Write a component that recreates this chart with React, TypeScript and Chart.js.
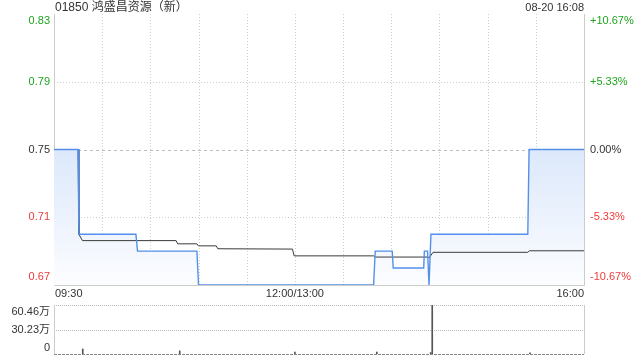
import React, { useEffect, useRef } from "react";
import { Chart, registerables } from "chart.js";

Chart.register(...registerables);

const TITLE = "01850 鸿盛昌资源（新）";
const TIMESTAMP = "08-20 16:08";
const WATERMARK = "sina.com";
const PREV_CLOSE = 0.75;

// minutes since 09:30 on a continuous trading clock (lunch break removed)
const priceTimes = [0, 15, 15.5, 51, 52, 89, 90, 199, 200, 210.6, 211.2, 230.2, 230.6, 232.6, 233.5, 234.7, 295, 295.8, 330];
const priceValues = [0.75, 0.75, 0.7, 0.7, 0.69, 0.69, 0.67, 0.67, 0.69, 0.69, 0.68, 0.68, 0.69, 0.69, 0.67, 0.7, 0.7, 0.75, 0.75];

const avgTimes = [0, 15, 15.5, 17.7, 76, 77, 89, 90, 101, 102, 148.5, 149.5, 199, 200, 233, 233.6, 236, 295, 296, 330];
const avgValues = [0.75, 0.75, 0.7, 0.6962, 0.6962, 0.6943, 0.6943, 0.6931, 0.6931, 0.6914, 0.6912, 0.6872, 0.6872, 0.6865, 0.6865, 0.686, 0.6893, 0.6893, 0.6902, 0.6902];

const volTimes = [17.9, 78.3, 150, 201, 234.5, 235.5, 296.4];
const volValues = [62000, 38000, 24000, 24000, 18000, 604600, 14000];

const priceTicks = [0.67, 0.71, 0.75, 0.79, 0.83];
const priceTickLabels = ["0.67", "0.71", "0.75", "0.79", "0.83"];
const pctTickLabels = ["-10.67%", "-5.33%", "0.00%", "+5.33%", "+10.67%"];

const timeTickMinutes = [0, 150, 330];
const timeTickLabels = ["09:30", "12:00/13:00", "16:00"];

const volTicks = [0, 302300, 604600];
const volTickLabels = ["0", "30.23万", "60.46万"];

const FONT = '"Liberation Sans", Arial, "Noto Sans CJK SC", sans-serif';
const GREEN = "#1fa41f";
const RED = "#ee3b3b";
const TEXT = "#333333";
const GRID = "#cfcfcf";
const BORDER = "#cccccc";

function colorFor(v: number) {
  if (Math.abs(v - PREV_CLOSE) < 1e-9) return TEXT;
  return v > PREV_CLOSE ? GREEN : RED;
}

const crisp = (v: number) => Math.round(v) + 0.5;

const mainPlugin = {
  id: "mainDecor",
  beforeDraw(chart: any) {
    const { ctx, chartArea: a, scales } = chart;
    const xs = scales.x;
    const ys = scales.y;
    ctx.save();
    ctx.lineWidth = 1;
    ctx.strokeStyle = GRID;
    ctx.setLineDash([1, 2]);
    for (let m = 30; m < 330; m += 30) {
      const x = crisp(xs.getPixelForValue(m));
      ctx.beginPath();
      ctx.moveTo(x, a.top);
      ctx.lineTo(x, a.bottom);
      ctx.stroke();
    }
    priceTicks.forEach((v) => {
      if (v === priceTicks[0] || v === priceTicks[priceTicks.length - 1]) return;
      const y = crisp(ys.getPixelForValue(v));
      const isPrev = Math.abs(v - PREV_CLOSE) < 1e-9;
      ctx.setLineDash(isPrev ? [3, 3] : [1, 2]);
      ctx.strokeStyle = isPrev ? "#bdbdbd" : GRID;
      ctx.beginPath();
      ctx.moveTo(a.left, y);
      ctx.lineTo(a.right, y);
      ctx.stroke();
    });
    ctx.setLineDash([]);
    ctx.strokeStyle = BORDER;
    ctx.beginPath();
    ctx.moveTo(crisp(a.left), a.top);
    ctx.lineTo(crisp(a.left), crisp(a.bottom));
    ctx.lineTo(crisp(a.right), crisp(a.bottom));
    ctx.lineTo(crisp(a.right), a.top);
    ctx.stroke();
    ctx.fillStyle = "#cfcfcf";
    ctx.font = `12px ${FONT}`;
    ctx.textAlign = "right";
    ctx.textBaseline = "middle";
    ctx.fillText(WATERMARK, a.right - 8, a.bottom - 6);
    ctx.restore();
  },
  afterDraw(chart: any) {
    const { ctx, chartArea: a, scales } = chart;
    const xs = scales.x;
    const ys = scales.y;
    ctx.save();
    ctx.textBaseline = "middle";
    ctx.fillStyle = TEXT;
    ctx.font = `12px ${FONT}`;
    ctx.textAlign = "left";
    ctx.fillText(TITLE, a.left + 1, 8);
    ctx.font = `11px ${FONT}`;
    ctx.textAlign = "right";
    ctx.fillText(TIMESTAMP, a.right, 8);
    ctx.font = `11px ${FONT}`;
    priceTicks.forEach((v, i) => {
      let y = ys.getPixelForValue(v);
      if (i === priceTicks.length - 1) y += 7;
      if (i === 0) y -= 8;
      ctx.fillStyle = colorFor(v);
      ctx.textAlign = "right";
      ctx.fillText(priceTickLabels[i], a.left - 4, y);
      ctx.textAlign = "left";
      ctx.fillText(pctTickLabels[i], a.right + 6, y);
    });
    ctx.fillStyle = TEXT;
    timeTickMinutes.forEach((m, i) => {
      const x = xs.getPixelForValue(m);
      ctx.textAlign = i === 0 ? "left" : i === timeTickMinutes.length - 1 ? "right" : "center";
      ctx.fillText(timeTickLabels[i], i === 0 ? x + 1 : x, a.bottom + 9);
    });
    ctx.restore();
  },
};

const volPlugin = {
  id: "volDecor",
  beforeDatasetsDraw(chart: any) {
    const { ctx, chartArea: a, scales } = chart;
    const ys = scales.y;
    ctx.save();
    ctx.lineWidth = 1;
    ctx.strokeStyle = "#bbbbbb";
    ctx.setLineDash([1, 1]);
    [volTicks[1], volTicks[2]].forEach((v) => {
      const y = crisp(ys.getPixelForValue(v));
      ctx.beginPath();
      ctx.moveTo(a.left, y);
      ctx.lineTo(a.right, y);
      ctx.stroke();
    });
    ctx.setLineDash([]);
    ctx.strokeStyle = BORDER;
    ctx.beginPath();
    ctx.moveTo(crisp(a.left), a.top);
    ctx.lineTo(crisp(a.left), a.bottom);
    ctx.moveTo(crisp(a.right), a.top);
    ctx.lineTo(crisp(a.right), a.bottom);
    ctx.stroke();
    ctx.strokeStyle = "#888888";
    ctx.setLineDash([3, 1]);
    ctx.beginPath();
    ctx.moveTo(a.left, crisp(a.bottom));
    ctx.lineTo(a.right, crisp(a.bottom));
    ctx.stroke();
    ctx.restore();
  },
  afterDraw(chart: any) {
    const { ctx, chartArea: a, scales } = chart;
    const ys = scales.y;
    ctx.save();
    ctx.textBaseline = "middle";
    ctx.textAlign = "right";
    ctx.fillStyle = TEXT;
    ctx.font = `11px ${FONT}`;
    volTicks.forEach((v, i) => {
      let y = ys.getPixelForValue(v);
      if (i === volTicks.length - 1) y += 7;
      if (i === 0) y -= 6;
      ctx.fillText(volTickLabels[i], a.left - 4, y);
    });
    ctx.restore();
  },
};

export default function App() {
  const mainRef = useRef<HTMLCanvasElement>(null);
  const volRef = useRef<HTMLCanvasElement>(null);

  useEffect(() => {
    const main = new Chart(mainRef.current!, {
      type: "line",
      data: {
        datasets: [
          {
            data: priceTimes.map((t, i) => ({ x: t, y: priceValues[i] })),
            borderColor: "#5490ea",
            borderWidth: 1.4,
            pointRadius: 0,
            tension: 0,
            order: 1,
            fill: "start",
            backgroundColor: (c: any) => {
              const ch = c.chart;
              const area = ch.chartArea;
              if (!area) return "rgba(225,236,251,0.6)";
              const y0 = ch.scales.y.getPixelForValue(PREV_CLOSE);
              const g = ch.ctx.createLinearGradient(0, y0, 0, area.bottom);
              g.addColorStop(0, "rgba(220,232,251,1)");
              g.addColorStop(1, "rgba(252,253,255,1)");
              return g;
            },
          },
          {
            data: avgTimes.map((t, i) => ({ x: t, y: avgValues[i] })),
            borderColor: "#3a3a3a",
            borderWidth: 1,
            pointRadius: 0,
            tension: 0,
            order: 2,
            fill: false,
          },
        ],
      },
      options: {
        animation: false,
        responsive: false,
        events: [],
        layout: { padding: { left: 54, right: 56, top: 14, bottom: 15 } },
        plugins: {
          legend: { display: false },
          tooltip: { enabled: false },
          filler: { drawTime: "beforeDatasetsDraw" },
        } as any,
        scales: {
          x: { type: "linear", min: 0, max: 330, display: false },
          y: { type: "linear", min: 0.67, max: 0.83, display: false },
        },
      },
      plugins: [mainPlugin],
    });

    const vol = new Chart(volRef.current!, {
      type: "bar",
      data: {
        datasets: [
          {
            data: volTimes.map((t, i) => ({ x: t, y: volValues[i] })),
            backgroundColor: "#555555",
            barThickness: 1,
            grouped: false,
          } as any,
        ],
      },
      options: {
        animation: false,
        responsive: false,
        events: [],
        layout: { padding: { left: 54, right: 56, top: 9, bottom: 6 } },
        plugins: { legend: { display: false }, tooltip: { enabled: false } },
        scales: {
          x: { type: "linear", min: 0, max: 330, display: false, offset: false },
          y: { type: "linear", min: 0, max: 604600, display: false },
        },
      },
      plugins: [volPlugin],
    });

    return () => {
      main.destroy();
      vol.destroy();
    };
  }, []);

  return (
    <div style={{ position: "fixed", left: 0, top: 0, width: 640, height: 360, background: "#fff" }}>
      <canvas ref={mainRef} width={640} height={300} style={{ position: "absolute", left: 0, top: 0, width: 640, height: 300 }} />
      <canvas ref={volRef} width={640} height={64} style={{ position: "absolute", left: 0, top: 296, width: 640, height: 64 }} />
    </div>
  );
}
